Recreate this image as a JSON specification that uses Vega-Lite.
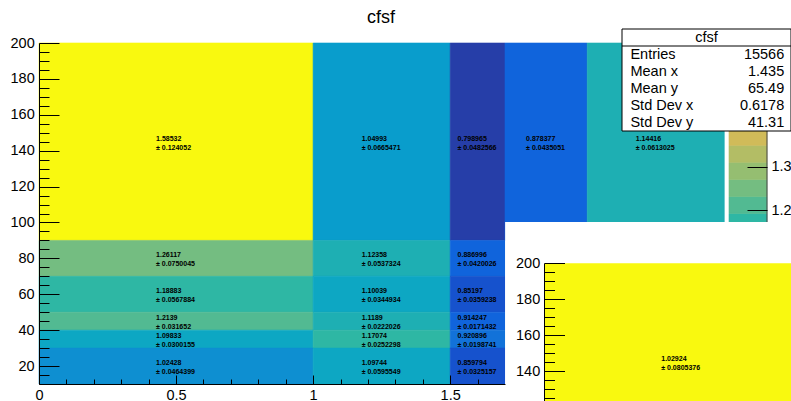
{
  "$schema": "https://vega.github.io/schema/vega-lite/v6.json",
  "width": 466,
  "height": 341,
  "autosize": {"type": "none"},
  "padding": {"left": 39, "top": 43, "right": 286, "bottom": 17},
  "background": "white",
  "config": {
    "view": {"stroke": null},
    "font": "Liberation Sans",
    "axis": {"labelFont": "Liberation Sans", "labelFontSize": 14.5, "labelColor": "black", "domainColor": "black", "tickColor": "black", "title": null, "grid": false, "labelFlush": false, "labelOverlap": false}
  },
  "title": {"text": "cfsf", "font": "Liberation Sans", "fontSize": 18, "fontWeight": "normal", "color": "black", "anchor": "middle", "frame": "group", "dx": 109, "dy": 18, "baseline": "alphabetic", "offset": 6},
  "datasets": {
    "cells": [
      {"x0": 0, "x1": 1, "y0": 90, "y1": 200, "cx": 0.5, "cy": 145, "v": 1.58532, "e": 0.124052},
      {"x0": 1, "x1": 1.5, "y0": 90, "y1": 200, "cx": 1.25, "cy": 145, "v": 1.04993, "e": 0.0665471},
      {"x0": 1.5, "x1": 1.7, "y0": 90, "y1": 200, "cx": 1.6, "cy": 145, "v": 0.798965, "e": 0.0482566},
      {"x0": 1.7, "x1": 2, "y0": 90, "y1": 200, "cx": 1.85, "cy": 145, "v": 0.878377, "e": 0.0435051},
      {"x0": 2, "x1": 2.5, "y0": 90, "y1": 200, "cx": 2.25, "cy": 145, "v": 1.14416, "e": 0.0613025},
      {"x0": 0, "x1": 1, "y0": 70, "y1": 90, "cx": 0.5, "cy": 80, "v": 1.26117, "e": 0.0750045},
      {"x0": 1, "x1": 1.5, "y0": 70, "y1": 90, "cx": 1.25, "cy": 80, "v": 1.12358, "e": 0.0537324},
      {"x0": 1.5, "x1": 1.7, "y0": 70, "y1": 90, "cx": 1.6, "cy": 80, "v": 0.886996, "e": 0.0420026},
      {"x0": 0, "x1": 1, "y0": 50, "y1": 70, "cx": 0.5, "cy": 60, "v": 1.18883, "e": 0.0567884},
      {"x0": 1, "x1": 1.5, "y0": 50, "y1": 70, "cx": 1.25, "cy": 60, "v": 1.10039, "e": 0.0344934},
      {"x0": 1.5, "x1": 1.7, "y0": 50, "y1": 70, "cx": 1.6, "cy": 60, "v": 0.85197, "e": 0.0359238},
      {"x0": 0, "x1": 1, "y0": 40, "y1": 50, "cx": 0.5, "cy": 45, "v": 1.2139, "e": 0.031652},
      {"x0": 1, "x1": 1.5, "y0": 40, "y1": 50, "cx": 1.25, "cy": 45, "v": 1.1189, "e": 0.0222026},
      {"x0": 1.5, "x1": 1.7, "y0": 40, "y1": 50, "cx": 1.6, "cy": 45, "v": 0.914247, "e": 0.0171432},
      {"x0": 0, "x1": 1, "y0": 30, "y1": 40, "cx": 0.5, "cy": 35, "v": 1.09833, "e": 0.0300155},
      {"x0": 1, "x1": 1.5, "y0": 30, "y1": 40, "cx": 1.25, "cy": 35, "v": 1.17074, "e": 0.0252298},
      {"x0": 1.5, "x1": 1.7, "y0": 30, "y1": 40, "cx": 1.6, "cy": 35, "v": 0.920896, "e": 0.0198741},
      {"x0": 0, "x1": 1, "y0": 10, "y1": 30, "cx": 0.5, "cy": 20, "v": 1.02428, "e": 0.0464399},
      {"x0": 1, "x1": 1.5, "y0": 10, "y1": 30, "cx": 1.25, "cy": 20, "v": 1.09744, "e": 0.0595549},
      {"x0": 1.5, "x1": 1.7, "y0": 10, "y1": 30, "cx": 1.6, "cy": 20, "v": 0.859794, "e": 0.0325157}
    ],
    "levels": [
      {"lo": 0.798965, "hi": 0.838283, "mid": 0.818624},
      {"lo": 0.838283, "hi": 0.8776, "mid": 0.857942},
      {"lo": 0.8776, "hi": 0.916918, "mid": 0.897259},
      {"lo": 0.916918, "hi": 0.956236, "mid": 0.936577},
      {"lo": 0.956236, "hi": 0.995554, "mid": 0.975895},
      {"lo": 0.995554, "hi": 1.034872, "mid": 1.015213},
      {"lo": 1.034872, "hi": 1.074189, "mid": 1.05453},
      {"lo": 1.074189, "hi": 1.113507, "mid": 1.093848},
      {"lo": 1.113507, "hi": 1.152825, "mid": 1.133166},
      {"lo": 1.152825, "hi": 1.192143, "mid": 1.172484},
      {"lo": 1.192143, "hi": 1.23146, "mid": 1.211801},
      {"lo": 1.23146, "hi": 1.270778, "mid": 1.251119},
      {"lo": 1.270778, "hi": 1.310096, "mid": 1.290437},
      {"lo": 1.310096, "hi": 1.349414, "mid": 1.329755},
      {"lo": 1.349414, "hi": 1.388731, "mid": 1.369072},
      {"lo": 1.388731, "hi": 1.428049, "mid": 1.40839},
      {"lo": 1.428049, "hi": 1.467367, "mid": 1.447708},
      {"lo": 1.467367, "hi": 1.506685, "mid": 1.487026},
      {"lo": 1.506685, "hi": 1.546002, "mid": 1.526343},
      {"lo": 1.546002, "hi": 1.58532, "mid": 1.565661}
    ],
    "pad2": [
      {"x0": 0, "x1": 1, "y0": 90, "y1": 200, "cx": 0.5, "cy": 145, "v": 1.02924, "e": 0.0805376}
    ],
    "stats": [
      {"k": "Entries", "v": "15566"},
      {"k": "Mean x", "v": "1.435"},
      {"k": "Mean y", "v": "65.49"},
      {"k": "Std Dev x", "v": "0.6178"},
      {"k": "Std Dev y", "v": "41.31"}
    ]
  },
  "layer": [
    {
      "data": {"name": "cells"},
      "layer": [
        {
          "mark": {"type": "rect", "strokeWidth": 0.6},
          "encoding": {
            "x": {"field": "x0", "type": "quantitative", "scale": {"domain": [0, 1.7], "nice": false, "zero": false},
              "axis": {"orient": "bottom", "values": [0, 0.5, 1, 1.5], "format": "~g", "tickSize": -9, "labelPadding": 13, "labelBaseline": "top", "labelAlign": "center", "zindex": 1}},
            "x2": {"field": "x1"},
            "y": {"field": "y0", "type": "quantitative", "scale": {"domain": [10, 200], "nice": false, "zero": false},
              "axis": {"orient": "left", "values": [20, 40, 60, 80, 100, 120, 140, 160, 180, 200], "format": "d", "tickSize": -20, "labelPadding": 24.8, "labelBaseline": "middle", "labelAlign": "right", "zindex": 1}},
            "y2": {"field": "y1"},
            "color": {"field": "v", "type": "quantitative", "legend": null,
              "scale": {"type": "quantize", "domain": [0.798965, 1.58532], "nice": false, "zero": false,
                "range": ["#263EA8", "#1652CD", "#1064DC", "#1272D9", "#1481D6", "#0E8FD1", "#099DCC", "#0DA7C3", "#1EAFB3", "#2EB7A4", "#52BA92", "#74BD81", "#95BE71", "#B3BD65", "#D1BB59", "#E2C04B", "#F4C63B", "#FDD22B", "#FBE61D", "#F9F90F"]}},
            "stroke": {"field": "v", "type": "quantitative", "legend": null,
              "scale": {"type": "quantize", "domain": [0.798965, 1.58532], "nice": false, "zero": false,
                "range": ["#263EA8", "#1652CD", "#1064DC", "#1272D9", "#1481D6", "#0E8FD1", "#099DCC", "#0DA7C3", "#1EAFB3", "#2EB7A4", "#52BA92", "#74BD81", "#95BE71", "#B3BD65", "#D1BB59", "#E2C04B", "#F4C63B", "#FDD22B", "#FBE61D", "#F9F90F"]}}
          }
        },
        {
          "mark": {"type": "text", "align": "left", "baseline": "middle", "dx": -20, "dy": -3, "fontSize": 7, "fontWeight": "bold", "color": "black", "font": "Liberation Sans"},
          "encoding": {
            "x": {"field": "cx", "type": "quantitative",
              "axis": {"orient": "bottom", "values": [0.1, 0.2, 0.3, 0.4, 0.6, 0.7, 0.8, 0.9, 1.1, 1.2, 1.3, 1.4, 1.6], "tickSize": -5, "labels": false, "domain": false, "zindex": 1}},
            "y": {"field": "cy", "type": "quantitative",
              "axis": {"orient": "left", "values": [15, 25, 30, 35, 45, 50, 55, 65, 70, 75, 85, 90, 95, 105, 110, 115, 125, 130, 135, 145, 150, 155, 165, 170, 175, 185, 190, 195], "tickSize": -10, "labels": false, "domain": false, "zindex": 1}},
            "text": {"field": "v", "type": "quantitative", "format": ""}
          }
        },
        {
          "mark": {"type": "text", "align": "left", "baseline": "middle", "dx": -20, "dy": 6, "fontSize": 7, "fontWeight": "bold", "color": "black", "font": "Liberation Sans", "text": {"expr": "'± ' + datum.e"}},
          "encoding": {
            "x": {"field": "cx", "type": "quantitative", "axis": null},
            "y": {"field": "cy", "type": "quantitative", "axis": null}
          }
        }
      ],
      "resolve": {"axis": {"x": "independent", "y": "independent"}}
    },
    {
      "layer": [
        {
          "data": {"name": "levels"},
          "mark": {"type": "rect", "strokeWidth": 0.6},
          "encoding": {
            "x": {"datum": 0, "type": "quantitative", "scale": {"domain": [0, 1], "range": [690, 728], "nice": false, "zero": false}, "axis": null},
            "x2": {"datum": 1},
            "y": {"field": "lo", "type": "quantitative", "scale": {"domain": [0.798965, 1.58532], "nice": false, "zero": false},
              "axis": {"orient": "right", "offset": 262, "values": [1.2, 1.3], "tickSize": -20, "labelPadding": 24, "domain": false, "labelBaseline": "middle", "labelAlign": "left", "zindex": 1}},
            "y2": {"field": "hi"},
            "color": {"field": "mid", "type": "quantitative", "legend": null,
              "scale": {"type": "quantize", "domain": [0.798965, 1.58532], "nice": false, "zero": false,
                "range": ["#263EA8", "#1652CD", "#1064DC", "#1272D9", "#1481D6", "#0E8FD1", "#099DCC", "#0DA7C3", "#1EAFB3", "#2EB7A4", "#52BA92", "#74BD81", "#95BE71", "#B3BD65", "#D1BB59", "#E2C04B", "#F4C63B", "#FDD22B", "#FBE61D", "#F9F90F"]}},
            "stroke": {"field": "mid", "type": "quantitative", "legend": null,
              "scale": {"type": "quantize", "domain": [0.798965, 1.58532], "nice": false, "zero": false,
                "range": ["#263EA8", "#1652CD", "#1064DC", "#1272D9", "#1481D6", "#0E8FD1", "#099DCC", "#0DA7C3", "#1EAFB3", "#2EB7A4", "#52BA92", "#74BD81", "#95BE71", "#B3BD65", "#D1BB59", "#E2C04B", "#F4C63B", "#FDD22B", "#FBE61D", "#F9F90F"]}}
          }
        },
        {
          "data": {"values": [{}]},
          "mark": {"type": "rule", "color": "#444444", "strokeWidth": 1},
          "encoding": {
            "x": {"datum": 1, "type": "quantitative"},
            "y": {"datum": 0.798965, "type": "quantitative"},
            "y2": {"datum": 1.58532}
          }
        }
      ]
    },
    {
      "layer": [
        {
          "data": {"values": [{}]},
          "mark": {"type": "rect", "color": "white"},
          "encoding": {
            "x": {"datum": -0.144, "type": "quantitative", "scale": {"domain": [0, 1], "range": [505.5, 779], "nice": false, "zero": false}, "axis": null},
            "x2": {"datum": 1.2},
            "y": {"datum": 222.9, "type": "quantitative", "scale": {"domain": [120, 240], "range": [364.3, 148.3], "nice": false, "zero": false},
              "axis": {"orient": "left", "offset": -505.5, "domain": false, "values": [140, 160, 180, 200], "format": "d", "tickSize": -20, "labelPadding": 24.8, "labelBaseline": "middle", "labelAlign": "right", "zindex": 1}},
            "y2": {"datum": 100}
          }
        },
        {
          "data": {"name": "pad2"},
          "mark": {"type": "rect", "color": "#F9F90F"},
          "encoding": {
            "x": {"field": "x0", "type": "quantitative"},
            "x2": {"field": "x1"},
            "y": {"field": "y0", "type": "quantitative",
              "axis": {"orient": "left", "offset": -505.5, "domain": false, "values": [125, 130, 135, 145, 150, 155, 165, 170, 175, 185, 190, 195], "tickSize": -10, "labels": false, "zindex": 1}},
            "y2": {"field": "y1"}
          }
        },
        {
          "data": {"name": "pad2"},
          "mark": {"type": "text", "align": "left", "baseline": "middle", "dx": -20, "dy": -3, "fontSize": 7, "fontWeight": "bold", "color": "black", "font": "Liberation Sans"},
          "encoding": {
            "x": {"field": "cx", "type": "quantitative"},
            "y": {"field": "cy", "type": "quantitative", "axis": null},
            "text": {"field": "v", "type": "quantitative", "format": ""}
          }
        },
        {
          "data": {"name": "pad2"},
          "mark": {"type": "text", "align": "left", "baseline": "middle", "dx": -20, "dy": 6, "fontSize": 7, "fontWeight": "bold", "color": "black", "font": "Liberation Sans", "text": {"expr": "'± ' + datum.e"}},
          "encoding": {
            "x": {"field": "cx", "type": "quantitative"},
            "y": {"field": "cy", "type": "quantitative", "axis": null}
          }
        },
        {
          "data": {"values": [{}]},
          "mark": {"type": "rule", "color": "black", "strokeWidth": 1},
          "encoding": {
            "x": {"datum": 0, "type": "quantitative"},
            "y": {"datum": 200, "type": "quantitative", "axis": null},
            "y2": {"datum": 100}
          }
        }
      ],
      "resolve": {"axis": {"y": "independent"}}
    },
    {
      "layer": [
        {
          "data": {"values": [{}]},
          "mark": {"type": "rect", "fill": "white", "stroke": "black", "strokeWidth": 1},
          "encoding": {
            "x": {"datum": 0, "type": "quantitative", "scale": {"domain": [0, 1], "range": [583, 752], "nice": false, "zero": false}, "axis": null},
            "x2": {"datum": 1},
            "y": {"datum": "cfsf", "type": "nominal", "bandPosition": 0,
              "scale": {"type": "band", "domain": ["cfsf", "Entries", "Mean x", "Mean y", "Std Dev x", "Std Dev y"], "range": [-14, 88], "paddingInner": 0, "paddingOuter": 0}, "axis": null},
            "y2": {"datum": "Std Dev y", "bandPosition": 1}
          }
        },
        {
          "data": {"values": [{}]},
          "mark": {"type": "rule", "color": "black", "strokeWidth": 1},
          "encoding": {
            "x": {"datum": 0, "type": "quantitative"},
            "x2": {"datum": 1},
            "y": {"datum": "Entries", "type": "nominal", "bandPosition": 0}
          }
        },
        {
          "data": {"values": [{}]},
          "mark": {"type": "text", "text": "cfsf", "align": "center", "baseline": "middle", "fontSize": 14.5, "color": "black", "font": "Liberation Sans"},
          "encoding": {
            "x": {"datum": 0.5, "type": "quantitative"},
            "y": {"datum": "cfsf", "type": "nominal"}
          }
        },
        {
          "data": {"name": "stats"},
          "mark": {"type": "text", "align": "left", "baseline": "middle", "fontSize": 14.5, "color": "black", "font": "Liberation Sans"},
          "encoding": {
            "x": {"datum": 0.05, "type": "quantitative"},
            "y": {"field": "k", "type": "nominal"},
            "text": {"field": "k"}
          }
        },
        {
          "data": {"name": "stats"},
          "mark": {"type": "text", "align": "right", "baseline": "middle", "fontSize": 14.5, "color": "black", "font": "Liberation Sans"},
          "encoding": {
            "x": {"datum": 0.96, "type": "quantitative"},
            "y": {"field": "k", "type": "nominal"},
            "text": {"field": "v"}
          }
        }
      ]
    }
  ],
  "resolve": {"scale": {"x": "independent", "y": "independent"}, "axis": {"x": "independent", "y": "independent"}}
}
